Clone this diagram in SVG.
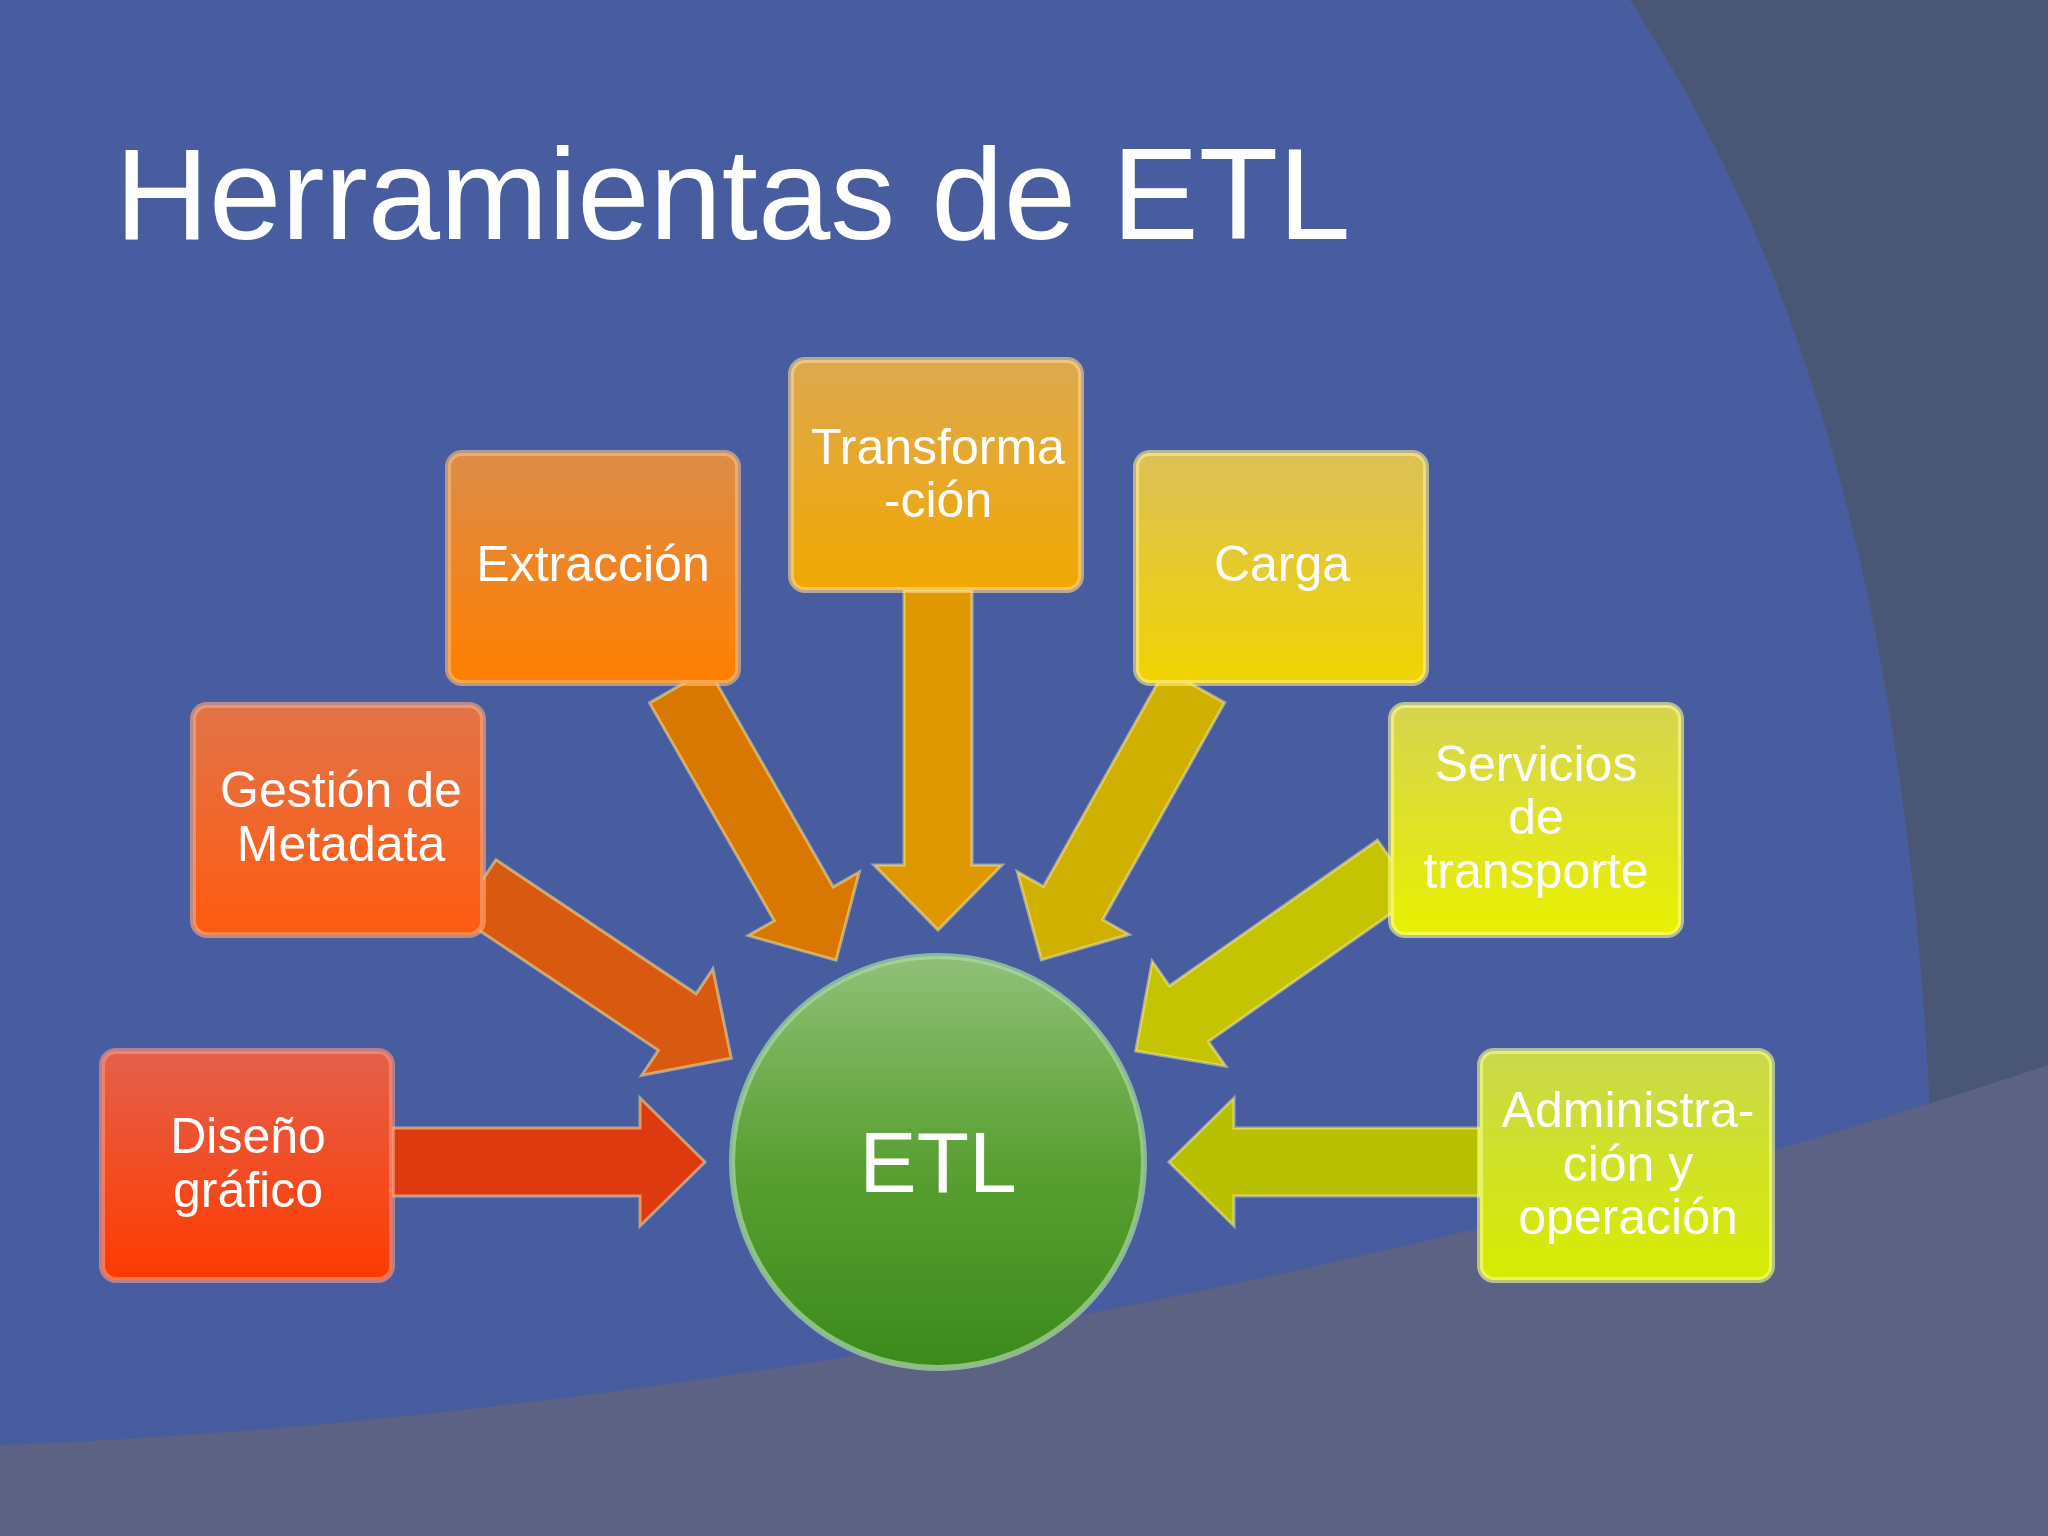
<svg xmlns="http://www.w3.org/2000/svg" width="2048" height="1536" viewBox="0 0 2048 1536">
<defs>
<linearGradient id="g1" x1="0" y1="0" x2="0" y2="1"><stop offset="0" stop-color="#e4604a"/><stop offset="1" stop-color="#ff3a00"/></linearGradient>
<linearGradient id="g2" x1="0" y1="0" x2="0" y2="1"><stop offset="0" stop-color="#e27448"/><stop offset="1" stop-color="#ff5a10"/></linearGradient>
<linearGradient id="g3" x1="0" y1="0" x2="0" y2="1"><stop offset="0" stop-color="#de8c48"/><stop offset="1" stop-color="#ff7e00"/></linearGradient>
<linearGradient id="g4" x1="0" y1="0" x2="0" y2="1"><stop offset="0" stop-color="#dea850"/><stop offset="1" stop-color="#f2a800"/></linearGradient>
<linearGradient id="g5" x1="0" y1="0" x2="0" y2="1"><stop offset="0" stop-color="#dcc058"/><stop offset="1" stop-color="#f0d400"/></linearGradient>
<linearGradient id="g6" x1="0" y1="0" x2="0" y2="1"><stop offset="0" stop-color="#d6d450"/><stop offset="1" stop-color="#e8f000"/></linearGradient>
<linearGradient id="g7" x1="0" y1="0" x2="0" y2="1"><stop offset="0" stop-color="#cad84c"/><stop offset="1" stop-color="#d8ec00"/></linearGradient>
<linearGradient id="gc" x1="0" y1="0" x2="0" y2="1"><stop offset="0" stop-color="#90c078"/><stop offset="0.5" stop-color="#5aa032"/><stop offset="1" stop-color="#3c8a1c"/></linearGradient>
</defs>
<style>
.box{stroke-width:6;stroke-opacity:0.6}
.t{font-family:"Liberation Sans",Arial,sans-serif;fill:#fff;font-size:50px;text-anchor:middle}
.big{font-size:86px}
.arr{stroke-width:3;stroke-opacity:0.5;stroke:#fff2a0}
</style>
<rect width="2048" height="1536" fill="#475da0"/>
<path d="M1630,0 C1760,200 1900,500 1930,1110 L2048,1080 L2048,0 Z" fill="#4a5675"/>
<path d="M0,1445 C700,1420 1500,1250 2048,1065 L2048,1536 L0,1536 Z" fill="#5b6283"/>
<text x="115" y="239" font-family="Liberation Sans,Arial,sans-serif" font-size="130" fill="#fff">Herramientas de ETL</text>
<g id="connectors">
<polygon class="arr" transform="translate(392,1162)" points="0,-34 248,-34 248,-64 313,0 248,64 248,34 0,34" fill="#dd3a10"/>
<polygon class="arr" transform="translate(1480,1162) rotate(180)" points="0,-34 246,-34 246,-64 311,0 246,64 246,34 0,34" fill="#b8c000"/>
<polygon class="arr" transform="translate(938,590) rotate(90)" points="0,-34 275,-34 275,-64 340,0 275,64 275,34 0,34" fill="#e09800"/>
<polygon class="arr" transform="translate(679,686) rotate(60.2)" points="0,-34 251,-34 251,-64 316,0 251,64 251,34 0,34" fill="#d87800"/>
<polygon class="arr" transform="translate(1195,686) rotate(119.3)" points="0,-34 249,-34 249,-64 314,0 249,64 249,34 0,34" fill="#d0b000"/>
<polygon class="arr" transform="translate(477,888) rotate(33.8)" points="0,-34 241,-34 241,-64 306,0 241,64 241,34 0,34" fill="#d85a10"/>
<polygon class="arr" transform="translate(1397,868) rotate(145)" points="0,-34 254,-34 254,-64 319,0 254,64 254,34 0,34" fill="#c4c400"/>
</g>
<g id="etl"><circle cx="938" cy="1162" r="206" fill="url(#gc)" stroke="#a8dca0" stroke-width="6" stroke-opacity="0.7"/><text class="t big" x="938" y="1192">ETL</text></g>
<g id="diseno"><rect class="box" x="102" y="1051" width="290" height="229" rx="14" fill="url(#g1)" stroke="#ff9a80"/><text class="t" x="248" y="1153">Diseño</text><text class="t" x="248" y="1207">gráfico</text></g>
<g id="gestion"><rect class="box" x="193" y="705" width="290" height="230" rx="14" fill="url(#g2)" stroke="#ffaa80"/><text class="t" x="341" y="807">Gestión de</text><text class="t" x="341" y="861">Metadata</text></g>
<g id="extraccion"><rect class="box" x="448" y="453" width="290" height="230" rx="14" fill="url(#g3)" stroke="#ffc080"/><text class="t" x="593" y="581">Extracción</text></g>
<g id="transformacion"><rect class="box" x="791" y="360" width="290" height="230" rx="14" fill="url(#g4)" stroke="#ffd890"/><text class="t" x="938" y="464">Transforma</text><text class="t" x="938" y="517">-ción</text></g>
<g id="carga"><rect class="box" x="1136" y="453" width="290" height="230" rx="14" fill="url(#g5)" stroke="#fff090"/><text class="t" x="1282" y="581">Carga</text></g>
<g id="servicios"><rect class="box" x="1391" y="705" width="290" height="230" rx="14" fill="url(#g6)" stroke="#ffff90"/><text class="t" x="1536" y="781">Servicios</text><text class="t" x="1536" y="834">de</text><text class="t" x="1536" y="888">transporte</text></g>
<g id="administracion"><rect class="box" x="1480" y="1051" width="292" height="229" rx="14" fill="url(#g7)" stroke="#f8ff90"/><text class="t" x="1628" y="1127">Administra-</text><text class="t" x="1628" y="1181">ción y</text><text class="t" x="1628" y="1234">operación</text></g>
</svg>
